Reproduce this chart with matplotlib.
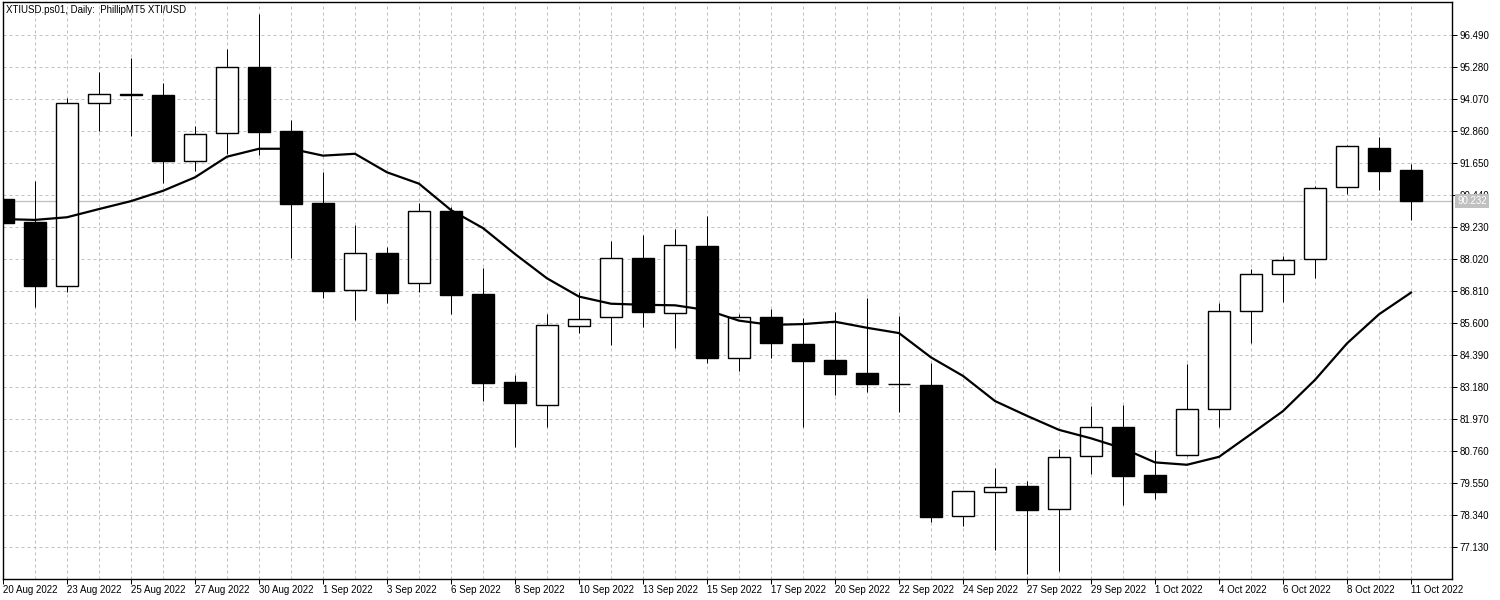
import matplotlib.pyplot as plt

# daily XTIUSD candles, 20 Aug .. 11 Oct 2022 (Mon-Sat sessions)
opens = [90.30, 89.43, 87.02, 93.92, 94.26, 94.22, 91.73, 92.79, 95.29, 92.87,
         90.15, 86.85, 88.25, 87.11, 89.85, 86.71, 83.38, 82.50, 85.51, 85.83,
         88.06, 86.00, 88.51, 84.28, 85.84, 84.81, 84.21, 83.72, 83.32, 83.26,
         78.30, 79.21, 79.44, 78.57, 80.57, 81.67, 79.86, 80.61, 82.35, 86.05,
         87.45, 88.02, 90.74, 92.22, 91.39]
highs = [90.30, 90.98, 94.11, 95.10, 95.63, 94.69, 93.05, 95.96, 97.30, 93.29,
         91.33, 89.31, 88.49, 90.16, 90.01, 87.70, 83.66, 85.95, 86.77, 88.71,
         88.94, 89.17, 89.66, 85.95, 86.14, 85.80, 86.02, 86.56, 85.89, 84.11,
         79.25, 80.12, 79.64, 80.84, 82.47, 82.51, 80.80, 84.06, 86.37, 87.67,
         88.15, 90.79, 92.35, 92.66, 91.64]
lows = [89.40, 86.23, 86.80, 92.88, 92.68, 90.91, 91.36, 91.99, 91.98, 88.08,
        86.57, 85.73, 86.37, 86.80, 85.94, 82.67, 80.92, 81.69, 85.25, 84.78,
        85.45, 84.68, 84.10, 83.81, 84.30, 81.69, 82.90, 83.00, 82.25, 78.08,
        77.95, 77.04, 76.12, 76.23, 79.91, 78.74, 78.96, 80.57, 81.69, 84.84,
        86.41, 87.32, 90.50, 90.64, 89.52]
closes = [89.40, 87.02, 93.92, 94.26, 94.22, 91.75, 92.75, 95.28, 92.85, 90.12,
          86.83, 88.25, 86.76, 89.85, 86.68, 83.35, 82.60, 85.52, 85.75, 88.06,
          86.04, 88.55, 84.30, 85.83, 84.87, 84.19, 83.69, 83.32, 83.30, 78.29,
          79.25, 79.40, 78.55, 80.53, 81.67, 79.84, 79.23, 82.35, 86.05, 87.45,
          87.98, 90.71, 92.30, 91.37, 90.232]
ma = [89.54, 89.51, 89.61, 89.92, 90.22, 90.61, 91.12, 91.90, 92.20, 92.20,
      91.94, 92.01, 91.31, 90.88, 89.88, 89.20, 88.22, 87.30, 86.61, 86.34,
      86.30, 86.28, 86.10, 85.70, 85.54, 85.57, 85.66, 85.43, 85.23, 84.31,
      83.61, 82.66, 82.10, 81.57, 81.25, 80.87, 80.34, 80.25, 80.55, 81.41,
      82.28, 83.46, 84.84, 85.94, 86.76]

date_labels = ["20 Aug 2022", "23 Aug 2022", "25 Aug 2022", "27 Aug 2022",
               "30 Aug 2022", "1 Sep 2022", "3 Sep 2022", "6 Sep 2022",
               "8 Sep 2022", "10 Sep 2022", "13 Sep 2022", "15 Sep 2022",
               "17 Sep 2022", "20 Sep 2022", "22 Sep 2022", "24 Sep 2022",
               "27 Sep 2022", "29 Sep 2022", "1 Oct 2022", "4 Oct 2022",
               "6 Oct 2022", "8 Oct 2022", "11 Oct 2022"]
price_ticks = [77.130, 78.340, 79.550, 80.760, 81.970, 83.180, 84.390, 85.600,
               86.810, 88.020, 89.230, 90.440, 91.650, 92.860, 94.070, 95.280,
               96.490]
last_price = 90.232
title = "XTIUSD.ps01, Daily:  PhillipMT5 XTI/USD"

plt.rcParams['font.family'] = ['Liberation Sans', 'DejaVu Sans']

GRID = '#C0C0C0'
PX = 0.72  # one pixel in points at 100 dpi
FS = 7

fig = plt.figure(figsize=(15, 6), dpi=100)
ax = fig.add_axes([3 / 1500, 21 / 600, 1449 / 1500, 577 / 600])

n = len(opens)
xs = list(range(n))

# wicks and bodies
ax.vlines(xs, lows, highs, color='black', lw=PX, zorder=3)
bottoms = [min(o, c) for o, c in zip(opens, closes)]
heights = [max(abs(c - o), 0.02) for o, c in zip(opens, closes)]
fills = ['white' if c >= o else 'black' for o, c in zip(opens, closes)]
ax.bar(xs, heights, bottom=bottoms, width=0.69, color=fills,
       edgecolor='black', linewidth=PX * 1.4, zorder=4)

# moving average
ax.plot(xs, ma, color='black', lw=1.6, zorder=5)

# current price line + label
ax.axhline(last_price, color=GRID, lw=PX * 1.3, zorder=2)
ax.annotate(f"{last_price:.3f}", xy=(1, last_price),
            xycoords=('axes fraction', 'data'), xytext=(5, 0),
            textcoords='offset pixels', va='center', ha='left',
            fontsize=FS, color='white', annotation_clip=False, zorder=20,
            bbox=dict(boxstyle='square,pad=0.22', fc=GRID, ec='none'))

ax.set_xlim(0, 1449 / 32)
ax.set_ylim(75.93, 97.75)

# axes / ticks
ax.yaxis.tick_right()
ax.set_yticks(price_ticks)
ax.set_yticklabels([f"{p:.3f}" for p in price_ticks], fontsize=FS)
ax.set_xticks(xs[::2])
ax.set_xticklabels(date_labels, fontsize=FS, ha='left')
ax.set_xticks(xs, minor=True)
ax.tick_params(axis='both', which='major', direction='out', length=3.5,
               width=PX, color='black', pad=1)
ax.tick_params(axis='x', which='minor', length=0)
ax.tick_params(axis='y', pad=2)

ax.grid(which='both', axis='x', color=GRID, lw=PX, linestyle=(0, (3, 3)))
ax.grid(which='major', axis='y', color=GRID, lw=PX, linestyle=(0, (3, 3)))
ax.set_axisbelow(True)

for sp in ax.spines.values():
    sp.set_color('black')
    sp.set_linewidth(PX * 1.4)

ax.annotate(title, xy=(0, 1), xycoords='axes fraction', xytext=(3, -3),
            textcoords='offset pixels', va='top', ha='left', fontsize=FS,
            zorder=20)

fig.savefig('out.png', dpi=100, facecolor='white')
